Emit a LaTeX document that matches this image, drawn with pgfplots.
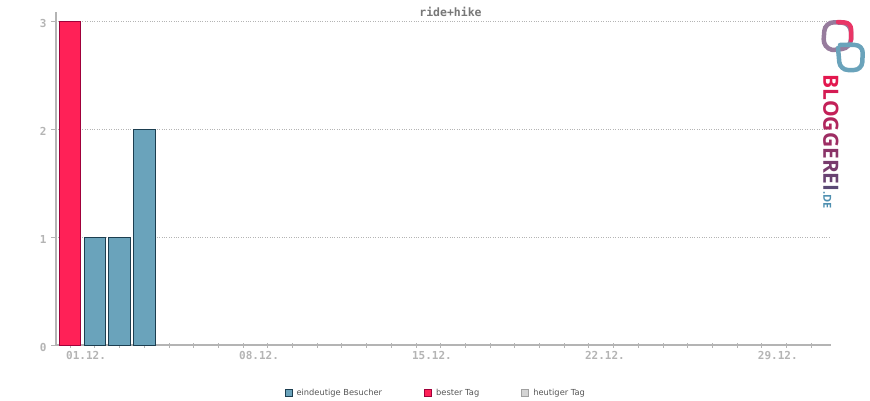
\documentclass[border=0pt]{standalone}
\usepackage{pgfplots}
\pgfplotsset{compat=1.18}
\usepackage{fontspec}
\setmainfont{DejaVu Sans}
\newfontfamily\monof{DejaVu Sans Mono}
\newfontfamily\logof{Open Sans}
\definecolor{axgray}{HTML}{B4B4B4}
\definecolor{tickgray}{HTML}{B4B4B4}
\definecolor{bluefill}{HTML}{6AA3BB}
\definecolor{blueedge}{HTML}{1C3E50}
\definecolor{redfill}{HTML}{FF2157}
\definecolor{rededge}{HTML}{A0003A}
\definecolor{todayfill}{HTML}{D4D4D4}
\definecolor{todayedge}{HTML}{A0A0A0}
\definecolor{textgray}{HTML}{555555}
\definecolor{titlegray}{HTML}{777777}
\begin{document}
\begin{tikzpicture}
\useasboundingbox (0pt,0pt) rectangle (870pt,400pt);
\begin{axis}[
  at={(56pt,55pt)}, anchor=south west,
  scale only axis, width=775pt, height=333pt,
  xmin=0.43, xmax=31.8, ymin=0, ymax=3.09,
  axis x line*=bottom, axis y line*=left,
  axis line style={axgray, line width=2pt, -},
  xtick={1,8,15,22,29},
  xticklabels={01.12.,08.12.,15.12.,22.12.,29.12.},
  minor xtick={1,...,31},
  ytick={0,1,2,3},
  tick style={axgray, line width=0.8pt},
  major tick length=5pt, minor tick length=5pt,
  xtick align=center, ytick align=outside,
  xticklabel style={font=\monof\bfseries\fontsize{11}{11}\selectfont, text=tickgray, anchor=north, xshift=16pt, yshift=0pt},
  yticklabel style={font=\monof\bfseries\fontsize{11}{11}\selectfont, text=tickgray, xshift=-1pt, yshift=-2pt},
  /pgf/number format/assume math mode=true,
  ymajorgrids, major grid style={tickgray, dotted, line width=0.6pt},
  title={ride+hike}, title style={font=\monof\bfseries\fontsize{11.5}{12}\selectfont, text=titlegray, at={(0.5,1)}, anchor=center, xshift=7pt, yshift=-6pt},
  legend style={at={(0.49,-0.12)}, anchor=north, draw=none, fill=none, font=\fontsize{8.3}{9}\selectfont, text=textgray, legend columns=3, column sep=2pt, /tikz/every even column/.append style={column sep=40pt}},
  legend image code/.code={\draw[#1, line width=1pt] (0pt,-3.5pt) rectangle (7pt,3.5pt);},
  clip=false,
]
\addplot[ybar, bar width=21.5pt, bar shift=0pt, fill=bluefill, draw=blueedge, line width=0.8pt] coordinates {(2,1) (3,1) (4,2)};
\addlegendentry{eindeutige Besucher}
\addplot[ybar, bar width=21.5pt, bar shift=0pt, fill=redfill, draw=rededge, line width=0.8pt] coordinates {(1,3)};
\addlegendentry{bester Tag}
\addlegendimage{fill=todayfill, draw=todayedge}
\addlegendentry{heutiger Tag}
\end{axis}
% logo
\begin{scope}[line width=4.5pt, line cap=round]
\draw[color=bluefill!70!redfill, rounded corners=9pt] (833pt,350pt) -- (851pt,352pt) -- (851pt,377pt) -- (825pt,378pt) -- (823pt,352pt) -- (833pt,350pt);
\draw[color=redfill!85!bluefill, rounded corners=6pt] (838pt,378pt) -- (851pt,377pt) -- (851pt,360pt);
\draw[color=bluefill, rounded corners=8pt] (840pt,355pt) -- (863pt,355pt) -- (862pt,330pt) -- (840pt,330pt) -- (838pt,352pt);
\end{scope}
\node[rotate=-90, anchor=west, inner sep=0pt] at (831pt,326pt) {\logof\bfseries\fontsize{21}{21}\selectfont
\textcolor[HTML]{E3174E}{B}\textcolor[HTML]{D41B53}{L}\textcolor[HTML]{C32058}{O}\textcolor[HTML]{B0265D}{G}\textcolor[HTML]{9D2D63}{G}\textcolor[HTML]{8A3468}{E}\textcolor[HTML]{783B6D}{R}\textcolor[HTML]{684271}{E}\textcolor[HTML]{5A4975}{I}\textcolor[HTML]{4E8FB0}{\fontsize{11}{11}\selectfont .DE}};
\end{tikzpicture}
\end{document}
